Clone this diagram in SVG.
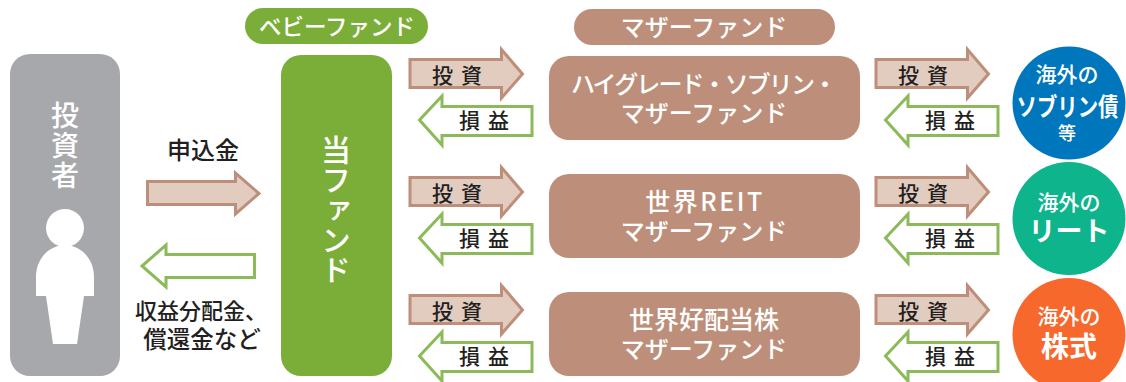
<svg xmlns="http://www.w3.org/2000/svg" width="1126" height="382" viewBox="0 0 1126 382">
<style>
text{font-family:"Noto Sans CJK JP","Noto Sans",sans-serif;text-anchor:middle}
.w{fill:#fff}.d{fill:#231f20}
.bx{fill:#bd8f7a}.g{fill:#7bae38}
.inv{fill:#e2cbbf;stroke:#bd8f7a;stroke-width:3;stroke-linejoin:miter}
.ret{fill:#fff;stroke:#8cb95a;stroke-width:3;stroke-linejoin:miter}
.a{font-size:21px;font-weight:500;letter-spacing:8px}
.m{font-size:24px;font-weight:500;fill:#fff}
.c{font-size:21px;font-weight:500;fill:#fff}
.b{font-weight:700;fill:#fff}
.v{writing-mode:vertical-rl;font-weight:500;fill:#fff}
</style>
<defs>
<path id="ai" d="M1 12.5H92.5V2.5L113.5 27L92.5 51V40.5H1Z" class="inv"/>
<path id="ar" d="M114 59.5H24V49L1.5 73L24 98V88.5H114Z" class="ret"/>
</defs>
<g id="connectors">
<path class="inv" d="M147.5 181.5H235.5V173L259 193.5L235.5 214V204.5H147.5Z"/>
<path class="ret" d="M254.5 254.5H166V245L142 266L166 287V277.5H254.5Z"/>
<use href="#ai" x="409" y="47"/><use href="#ar" x="418" y="47"/>
<use href="#ai" x="409" y="165"/><use href="#ar" x="418" y="165"/>
<use href="#ai" x="409" y="283"/><use href="#ar" x="418" y="283"/>
<use href="#ai" x="875" y="47"/><use href="#ar" x="884" y="47"/>
<use href="#ai" x="875" y="165"/><use href="#ar" x="884" y="165"/>
<use href="#ai" x="875" y="283"/><use href="#ar" x="884" y="283"/>
<text x="203" y="159" font-size="24" font-weight="500" class="d">申込金</text>
<text x="201" y="319" font-size="22" font-weight="500" class="d">収益分配金、</text>
<text x="202" y="348" font-size="23.5" font-weight="500" class="d">償還金など</text>
<text x="461" y="83" class="a d">投資</text><text x="488" y="128" class="a d">損益</text>
<text x="461" y="201" class="a d">投資</text><text x="488" y="246" class="a d">損益</text>
<text x="461" y="319" class="a d">投資</text><text x="488" y="364" class="a d">損益</text>
<text x="927" y="83" class="a d">投資</text><text x="954" y="128" class="a d">損益</text>
<text x="927" y="201" class="a d">投資</text><text x="954" y="246" class="a d">損益</text>
<text x="927" y="319" class="a d">投資</text><text x="954" y="364" class="a d">損益</text>
</g>
<g id="investor">
<rect x="10" y="54" width="110" height="322" rx="20" fill="#a7a8ac"/>
<text x="65" y="146" font-size="28" letter-spacing="2" class="v">投資者</text>
<circle cx="65" cy="228" r="19" fill="#fff"/>
<path d="M36 296V277C36 258 50 245 65 245C80 245 94 258 94 277V296H84L77 344H53L46 296Z" fill="#fff"/>
</g>
<g id="baby-label"><rect x="245" y="8" width="183" height="36" rx="18" class="g"/><text x="337" y="35" class="m" style="font-size:22.5px">ベビーファンド</text></g>
<g id="mother-label"><rect x="574" y="9" width="261" height="36" rx="18" class="bx"/><text x="704" y="36" class="m">マザーファンド</text></g>
<g id="fund"><rect x="281" y="55" width="111" height="321" rx="20" class="g"/>
<text x="336" y="210" font-size="30" class="v">当ファンド</text></g>
<g id="mother1"><rect x="549" y="56" width="311" height="84" rx="20" class="bx"/>
<text x="704" y="93" class="m" textLength="266" lengthAdjust="spacing">ハイグレード・ソブリン・</text><text x="704" y="122" class="m">マザーファンド</text></g>
<g id="mother2"><rect x="549" y="174" width="311" height="84" rx="20" class="bx"/>
<text x="705" y="211" class="m" style="font-size:25px" letter-spacing="2.5">世界REIT</text><text x="704" y="240" class="m">マザーファンド</text></g>
<g id="mother3"><rect x="549" y="292" width="311" height="84" rx="20" class="bx"/>
<text x="704" y="329" class="m" style="font-size:25px">世界好配当株</text><text x="704" y="358" class="m">マザーファンド</text></g>
<g id="target1"><circle cx="1069" cy="103" r="56.5" fill="#0077bd"/>
<text x="1067" y="82" class="c">海外の</text><text transform="translate(1067.5 116) scale(.816 1)" font-size="25" class="b">ソブリン債</text><text x="1067" y="140" font-size="18" font-weight="500" fill="#fff">等</text></g>
<g id="target2"><circle cx="1069" cy="218.5" r="56.5" fill="#0db48c"/>
<text x="1069" y="210" class="c">海外の</text><text x="1069" y="241" font-size="27" class="b">リート</text></g>
<g id="target3"><circle cx="1069" cy="334.5" r="56.5" fill="#f6682b"/>
<text x="1069" y="324" class="c">海外の</text><text x="1069" y="357" font-size="28" class="b">株式</text></g>
</svg>
